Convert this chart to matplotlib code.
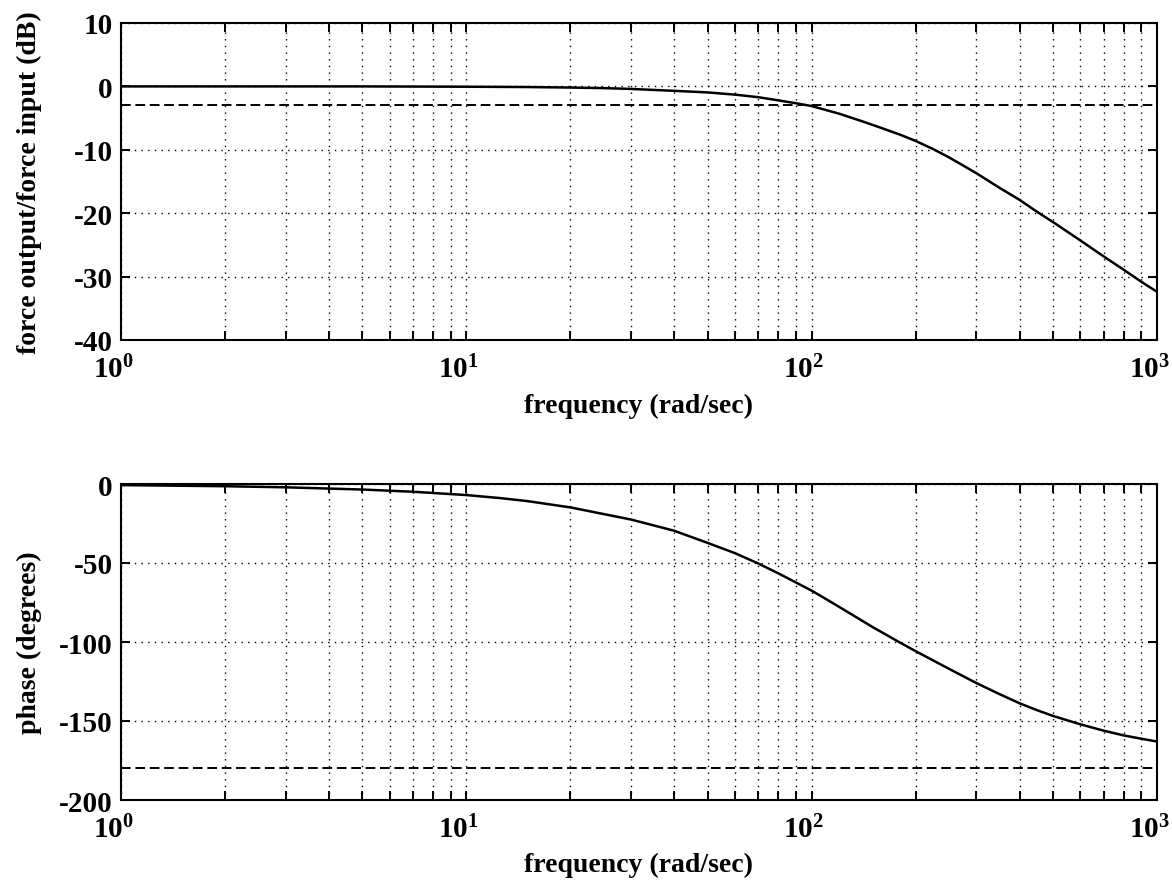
import matplotlib
matplotlib.use("Agg")
import matplotlib.pyplot as plt
import matplotlib.transforms as mtransforms

# ---- data ----
mag_freq = [1, 2, 5, 10, 15, 20, 25, 30, 40, 50, 60, 70, 80, 90, 100,
            120, 140, 160, 180, 200, 225, 250, 275, 300, 350, 400, 450, 500, 600, 700, 800, 900, 1000]
mag_db = [0, 0, 0, -0.05, -0.1, -0.18, -0.27, -0.4, -0.7, -0.95, -1.3, -1.7, -2.2, -2.65, -3.1,
          -4.3, -5.5, -6.6, -7.6, -8.6, -9.9, -11.2, -12.5, -13.7, -16.0, -17.9, -19.8, -21.4,
          -24.3, -26.8, -28.9, -30.8, -32.4]
mag_ref_db = -3

ph_freq = [1, 2, 3, 5, 7, 10, 12.5, 15, 20, 30, 40, 50, 60, 70, 80, 90, 100,
           115, 130, 150, 175, 200, 250, 300, 350, 400, 450, 500, 600, 700, 800, 900, 1000]
ph_deg = [-0.7, -1.4, -2.1, -3.5, -4.9, -7.0, -8.9, -10.8, -14.8, -22.5, -29.6, -37.3, -43.8,
          -50.3, -56.5, -62.3, -67.5, -75.3, -82.3, -90.5, -98.8, -105.8, -117.0, -126.0, -133.0,
          -138.8, -143.2, -146.8, -152.1, -156.1, -159.1, -161.2, -163.0]
ph_ref_deg = -180

xlim = (1, 1000)
x_decades = [1, 10, 100, 1000]
x_labels = [r"$\mathbf{10^{0}}$", r"$\mathbf{10^{1}}$", r"$\mathbf{10^{2}}$", r"$\mathbf{10^{3}}$"]
mag_yticks = [10, 0, -10, -20, -30, -40]
ph_yticks = [0, -50, -100, -150, -200]

xlabel_text = "frequency (rad/sec)"
mag_ylabel = "force output/force input (dB)"
ph_ylabel = "phase (degrees)"

# ---- style ----
plt.rcParams['font.family'] = ['Liberation Serif', 'DejaVu Serif']
plt.rcParams['font.weight'] = 'bold'
plt.rcParams['mathtext.fontset'] = 'custom'
plt.rcParams['mathtext.rm'] = 'Liberation Serif'
plt.rcParams['mathtext.bf'] = 'Liberation Serif:bold'
FS_LAB = 20
FS_TICK = 21

fig = plt.figure(figsize=(11.72, 8.87), dpi=100)
W, H = 1172, 887

def make_axes(left, top, right, bottom):
    return fig.add_axes([left / W, 1 - bottom / H, (right - left) / W, (bottom - top) / H])

ax1 = make_axes(121, 24, 1157, 341)
ax2 = make_axes(121, 485, 1157, 801)

def style(ax, yticks, ylabel):
    ax.set_xscale('log')
    ax.set_xlim(*xlim)
    ax.set_ylim(min(yticks), max(yticks))
    ax.set_yticks(yticks)
    ax.set_yticklabels([str(v) for v in yticks], fontsize=FS_TICK, fontweight='bold')
    ax.set_xticks(x_decades)
    ax.set_xticklabels(x_labels, fontsize=FS_TICK)
    for sp in ax.spines.values():
        sp.set_linewidth(1.5)
    ax.tick_params(which='both', direction='in', top=True, right=True, length=6.5, width=1.4)
    ax.tick_params(axis='x', which='major', pad=11)
    ax.tick_params(axis='y', which='major', pad=6)
    ax.grid(True, which='both', axis='x', color='k', lw=1.0, linestyle=(0, (1.0, 3.8)))
    ax.grid(True, which='major', axis='y', color='k', lw=1.0, linestyle=(0, (1.0, 3.8)))
    ax.set_xlabel(xlabel_text, fontsize=FS_LAB, fontweight='bold')
    ax.xaxis.label.set_va('center')
    ax.xaxis.set_label_coords(0.5, -0.205)
    ax.set_ylabel(ylabel, fontsize=FS_LAB, fontweight='bold')
    ax.yaxis.label.set_va('center')
    ax.yaxis.set_label_coords(-0.088, 0.5)
    offset = mtransforms.ScaledTranslation(-8 / 100, 0, fig.dpi_scale_trans)
    for lab in ax.get_xticklabels():
        lab.set_transform(lab.get_transform() + offset)

ax1.plot(mag_freq, mag_db, color='k', lw=1.8)
ax1.axhline(mag_ref_db, color='k', lw=1.4, linestyle=(0, (5, 2.4)))
style(ax1, mag_yticks, mag_ylabel)

ax2.plot(ph_freq, ph_deg, color='k', lw=1.8)
ax2.axhline(ph_ref_deg, color='k', lw=1.4, linestyle=(0, (5, 2.4)))
style(ax2, ph_yticks, ph_ylabel)

fig.savefig("out.png", dpi=100)
